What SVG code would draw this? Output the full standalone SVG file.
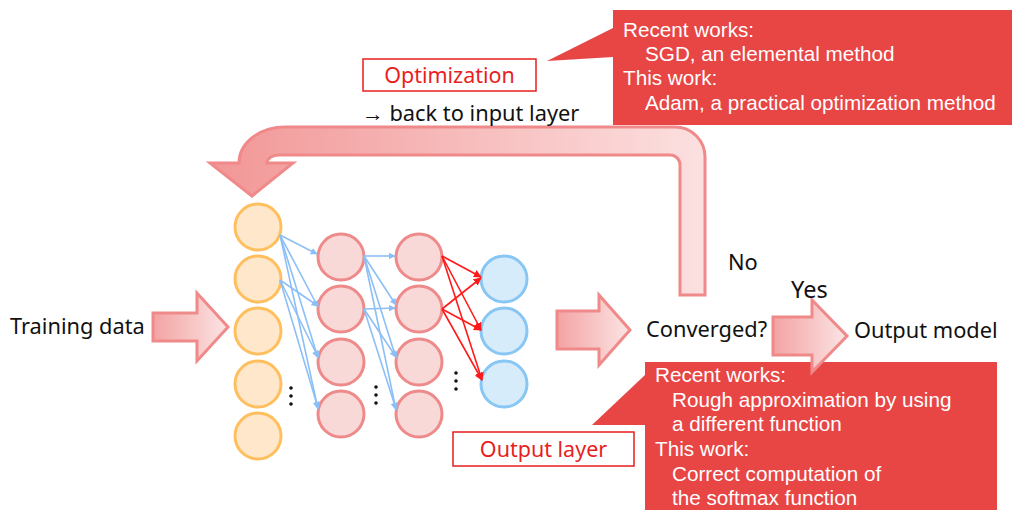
<svg xmlns="http://www.w3.org/2000/svg" width="1024" height="521" viewBox="0 0 1024 521">
<defs>
<linearGradient id="gLoop" gradientUnits="userSpaceOnUse" x1="210" y1="0" x2="705" y2="0">
<stop offset="0" stop-color="#F29696"/>
<stop offset="1" stop-color="#FCE0E0"/>
</linearGradient>
<linearGradient id="gBlk" x1="0" y1="0" x2="1" y2="0">
<stop offset="0" stop-color="#F3A3A3"/>
<stop offset="1" stop-color="#FCE4E4"/>
</linearGradient>
<marker id="mB" viewBox="0 0 10 10" refX="9" refY="5" markerWidth="7" markerHeight="7" markerUnits="userSpaceOnUse" orient="auto">
<path d="M0,0 L10,5 L0,10 z" fill="#8CBFF6"/>
</marker>
<marker id="mR" viewBox="0 0 10 10" refX="9" refY="5" markerWidth="8" markerHeight="8" markerUnits="userSpaceOnUse" orient="auto">
<path d="M0,0 L10,5 L0,10 z" fill="#FF1A1A"/>
</marker>
</defs>
<style>
.in{fill:#FFE7CC;stroke:#FFBF5E;stroke-width:3}
.hd{fill:#F9D8D8;stroke:#EE8A8A;stroke-width:3}
.out{fill:#D7ECFB;stroke:#88C6F4;stroke-width:3}
.cb{stroke:#8CBFF6;stroke-width:1.6;fill:none;marker-end:url(#mB)}
.cr{stroke:#FF1A1A;stroke-width:1.6;fill:none;marker-end:url(#mR)}
.blk{fill:url(#gBlk);stroke:#F08A8A;stroke-width:3;stroke-linejoin:miter}
.t{font-family:"Noto Sans","Liberation Sans",sans-serif;font-size:21.8px;fill:#111}
.w{font-family:"Liberation Sans",Arial,sans-serif;font-size:20.7px;fill:#fff}
.rl{font-family:"Noto Sans","Liberation Sans",sans-serif;font-size:21.5px;fill:#E81E1E}
.box{fill:#fff;stroke:#E81E1E;stroke-width:1.5}
.call{fill:#E84545}
.dot{fill:#111}
</style>

<g id="loop">
<path d="M680,295 L705,295 L705,157 A30,30 0 0 0 675,127 L285,127 A46,36 0 0 0 239,163 L210,163 L252,196 L293,163 L267,163 A12,8 0 0 1 279,155 L670,155 A10,10 0 0 1 680,165 Z" fill="url(#gLoop)" stroke="#F08A8A" stroke-width="3" stroke-linejoin="miter"/>
</g>

<g id="input-layer">
<circle class="in" cx="258" cy="227" r="23"/>
<circle class="in" cx="258" cy="279" r="23"/>
<circle class="in" cx="258" cy="331" r="23"/>
<circle class="in" cx="258" cy="384" r="23"/>
<circle class="in" cx="258" cy="436" r="23"/>
</g>
<g id="hidden-layer-1">
<circle class="hd" cx="341" cy="257" r="23"/>
<circle class="hd" cx="341" cy="309" r="23"/>
<circle class="hd" cx="341" cy="362" r="23"/>
<circle class="hd" cx="341" cy="414" r="23"/>
</g>
<g id="hidden-layer-2">
<circle class="hd" cx="419" cy="257" r="23"/>
<circle class="hd" cx="419" cy="309" r="23"/>
<circle class="hd" cx="419" cy="362" r="23"/>
<circle class="hd" cx="419" cy="414" r="23"/>
</g>
<g id="output-layer">
<circle class="out" cx="504" cy="279" r="23"/>
<circle class="out" cx="504" cy="331" r="23"/>
<circle class="out" cx="504" cy="384" r="23"/>
</g>
<g id="ellipses">
<circle class="dot" cx="291" cy="388" r="1.8"/><circle class="dot" cx="291" cy="396" r="1.8"/><circle class="dot" cx="291" cy="404" r="1.8"/>
<circle class="dot" cx="376" cy="387" r="1.8"/><circle class="dot" cx="376" cy="395" r="1.8"/><circle class="dot" cx="376" cy="403" r="1.8"/>
<circle class="dot" cx="456" cy="373" r="1.8"/><circle class="dot" cx="456" cy="381" r="1.8"/><circle class="dot" cx="456" cy="389" r="1.8"/>
</g>

<g id="connectors">
<line class="cb" x1="280" y1="235" x2="317" y2="254"/>
<line class="cb" x1="280" y1="235" x2="318" y2="307"/>
<line class="cb" x1="280" y1="235" x2="318" y2="358"/>
<line class="cb" x1="280" y1="235" x2="318" y2="409"/>
<line class="cb" x1="280" y1="280" x2="318" y2="306"/>
<line class="cb" x1="280" y1="280" x2="318" y2="357"/>
<line class="cb" x1="280" y1="280" x2="318" y2="408"/>
<line class="cb" x1="364" y1="256" x2="395" y2="256"/>
<line class="cb" x1="364" y1="256" x2="396" y2="305"/>
<line class="cb" x1="364" y1="256" x2="396" y2="358"/>
<line class="cb" x1="364" y1="256" x2="396" y2="410"/>
<line class="cb" x1="364" y1="309" x2="395" y2="308"/>
<line class="cb" x1="364" y1="309" x2="396" y2="357"/>
<line class="cb" x1="364" y1="309" x2="396" y2="409"/>
<line class="cr" x1="442" y1="256" x2="481" y2="277"/>
<line class="cr" x1="442" y1="256" x2="481" y2="330"/>
<line class="cr" x1="442" y1="256" x2="482" y2="380"/>
<line class="cr" x1="442" y1="309" x2="481" y2="278"/>
<line class="cr" x1="442" y1="309" x2="481" y2="330"/>
<line class="cr" x1="442" y1="309" x2="482" y2="380"/>
</g>

<g id="arrow-training">
<path class="blk" d="M153,313 L197,313 L197,293 L228,327 L197,361 L197,341 L153,341 Z"/>
</g>
<g id="arrow-converge">
<path class="blk" d="M557,311 L599,311 L599,295 L630,330 L599,365 L599,349 L557,349 Z"/>
</g>

<g id="callout-top">
<path class="call" d="M613,10 L1012,10 L1012,125 L613,125 L613,57 L547,61 L613,28 Z"/>
<text class="w" x="623" y="37">Recent works:</text>
<text class="w" x="645" y="61">SGD, an elemental method</text>
<text class="w" x="623" y="85">This work:</text>
<text class="w" x="645" y="110">Adam, a practical optimization method</text>
</g>
<g id="callout-bottom">
<path class="call" d="M645,362 L997,362 L997,510 L645,510 L645,425 L592,425 L645,375 Z"/>
<text class="w" x="655" y="382">Recent works:</text>
<text class="w" x="672" y="407">Rough approximation by using</text>
<text class="w" x="672" y="431">a different function</text>
<text class="w" x="655" y="456">This work:</text>
<text class="w" x="672" y="481">Correct computation of</text>
<text class="w" x="672" y="505">the softmax function</text>
</g>

<g id="arrow-yes">
<path class="blk" d="M773,317 L812,317 L812,300 L847,336 L812,372 L812,355 L773,355 Z"/>
</g>

<g id="optimization">
<rect class="box" x="363" y="59" width="173" height="32"/>
<text class="rl" x="449.5" y="83" text-anchor="middle">Optimization</text>
</g>
<g id="output-label">
<rect class="box" x="453" y="432" width="181" height="34"/>
<text class="rl" x="543.5" y="457" text-anchor="middle">Output layer</text>
</g>

<g id="labels">
<text class="t" x="362" y="121">→ back to input layer</text>
<text class="t" x="10" y="334">Training data</text>
<text class="t" x="646" y="337">Converged?</text>
<text class="t" x="854" y="338">Output model</text>
<text class="t" x="728" y="270">No</text>
<text class="t" x="791" y="298" style="font-size:23.5px">Yes</text>
</g>
</svg>
